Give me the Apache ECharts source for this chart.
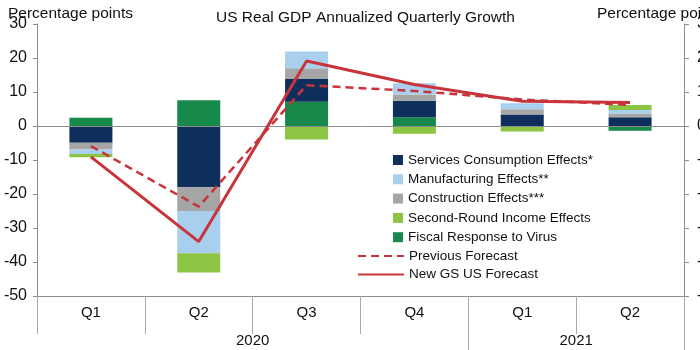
<!DOCTYPE html>
<html>
<head>
<meta charset="utf-8">
<script src="https://cdn.jsdelivr.net/npm/echarts@6/dist/echarts.min.js"></script>
<style>html,body{margin:0;padding:0;background:#fff}#c{width:700px;height:350px}</style>
</head>
<body>
<div id="c"></div>
<script>
const categories = ['Q1', 'Q2', 'Q3', 'Q4', 'Q1', 'Q2'];
const years = ['2020', '2021'];
const quartersPerYear = [4, 2];
const yTicks = [-50, -40, -30, -20, -10, 0, 10, 20, 30];

const fiscal = [2.4, 7.6, 7.1, 2.6, 0, -1.4];
const services = [-4.9, -18.0, 6.7, 4.8, 3.4, 2.6];
const construction = [-2.0, -7.0, 3.2, 1.9, 1.5, 1.1];
const manufacturing = [-1.3, -12.4, 4.9, 3.3, 1.8, 1.0];
const secondRound = [-1.0, -5.7, -4.0, -2.3, -1.6, 1.5];
const previousForecast = [-5.9, -23.7, 12.0, 10.3, 7.8, 6.2];
const newForecast = [-9.1, -34.0, 19.1, 12.2, 7.3, 6.9];

const font = 'Liberation Sans, Arial, sans-serif';
const axisGray = '#8c8c8c';

// year spans computed from quarter counts
const yearBounds = [];
const yearCenters = [];
let acc = 0;
quartersPerYear.forEach(n => { yearCenters.push(acc + n / 2); acc += n; yearBounds.push(acc); });

const chart = echarts.init(document.getElementById('c'), null, {renderer: 'canvas'});

const barBase = { type: 'bar', stack: 'total', barWidth: 43, xAxisIndex: 0, yAxisIndex: 0 };

chart.setOption({
  animation: false,
  textStyle: { fontFamily: font },
  title: [
    { text: 'US Real GDP Annualized Quarterly Growth', left: 211, top: 5,
      textStyle: { fontSize: 15.5, fontWeight: 'normal', color: '#111', fontFamily: font } },
    { text: 'Percentage points', left: 3, top: 1,
      textStyle: { fontSize: 15.5, fontWeight: 'normal', color: '#111', fontFamily: font } },
    { text: 'Percentage points', left: 592, top: 1,
      textStyle: { fontSize: 15.5, fontWeight: 'normal', color: '#111', fontFamily: font } }
  ],
  grid: { left: 37, right: 16, top: 24, bottom: 54, containLabel: false, outerBoundsMode: 'none' },
  legend: [
    { data: ['Services Consumption Effects*', 'Manufacturing Effects**', 'Construction Effects***',
             'Second-Round Income Effects', 'Fiscal Response to Virus'],
      orient: 'vertical', left: 393, top: 153, itemWidth: 10, itemHeight: 10, itemGap: 5.3,
      icon: 'rect', padding: 0,
      textStyle: { fontSize: 13.5, color: '#111', lineHeight: 14, fontFamily: font } },
    { data: ['Previous Forecast', 'New GS US Forecast'],
      orient: 'vertical', left: 357, top: 249, itemWidth: 46, itemHeight: 10, itemGap: 4.5,
      padding: 0, itemStyle: { opacity: 0 },
      textStyle: { fontSize: 13.5, color: '#111', lineHeight: 14, fontFamily: font } }
  ],
  xAxis: [
    { type: 'category', data: categories, position: 'bottom',
      axisLine: { onZero: false, lineStyle: { color: axisGray, width: 1 } },
      axisTick: { show: true, interval: 0, length: 38, lineStyle: { color: '#aaa' } },
      axisLabel: { fontSize: 15, color: '#111', margin: 9, interval: 0, fontFamily: font },
      splitLine: { show: false } },
    { type: 'value', min: 0, max: acc, position: 'bottom',
      axisLine: { show: false, onZero: false },
      axisTick: { show: true, customValues: yearBounds, length: 56, lineStyle: { color: '#aaa' } },
      axisLabel: { customValues: yearCenters, fontSize: 15, color: '#111', margin: 37, fontFamily: font,
        formatter: v => years[yearCenters.indexOf(v)] || '' },
      splitLine: { show: false } }
  ],
  yAxis: [
    { type: 'value', min: yTicks[0], max: yTicks[yTicks.length - 1], interval: 10, position: 'left',
      axisLine: { show: true, lineStyle: { color: axisGray } },
      axisTick: { show: true, length: 4, lineStyle: { color: axisGray } },
      axisLabel: { fontSize: 16, color: '#111', margin: 10, fontFamily: font },
      splitLine: { show: false } },
    { type: 'value', min: yTicks[0], max: yTicks[yTicks.length - 1], interval: 10, position: 'right',
      axisLine: { show: true, lineStyle: { color: axisGray } },
      axisTick: { show: true, length: 5, lineStyle: { color: axisGray } },
      axisLabel: { fontSize: 16, color: '#111', margin: 13, fontFamily: font },
      splitLine: { show: false } }
  ],
  series: [
    Object.assign({}, barBase, { name: 'Fiscal Response to Virus', data: fiscal, itemStyle: { color: '#17894a' },
      markLine: { silent: true, symbol: 'none', label: { show: false },
        lineStyle: { color: '#8c8c8c', type: 'solid', width: 1 }, data: [{ yAxis: 0 }] } }),
    Object.assign({}, barBase, { name: 'Services Consumption Effects*', data: services, itemStyle: { color: '#0e2f5c' } }),
    Object.assign({}, barBase, { name: 'Construction Effects***', data: construction, itemStyle: { color: '#a6a6a6' } }),
    Object.assign({}, barBase, { name: 'Manufacturing Effects**', data: manufacturing, itemStyle: { color: '#a9cfee' } }),
    Object.assign({}, barBase, { name: 'Second-Round Income Effects', data: secondRound, itemStyle: { color: '#8cc444' } }),
    { name: 'Previous Forecast', type: 'line', data: previousForecast, symbol: 'none', z: 5,
      itemStyle: { color: '#c8343a' },
      lineStyle: { color: '#c8343a', width: 2.5, type: [8, 5] } },
    { name: 'New GS US Forecast', type: 'line', data: newForecast, symbol: 'none', z: 6,
      itemStyle: { color: '#c8343a' },
      lineStyle: { color: '#c8343a', width: 3 } }
  ]
});
</script>
</body>
</html>
